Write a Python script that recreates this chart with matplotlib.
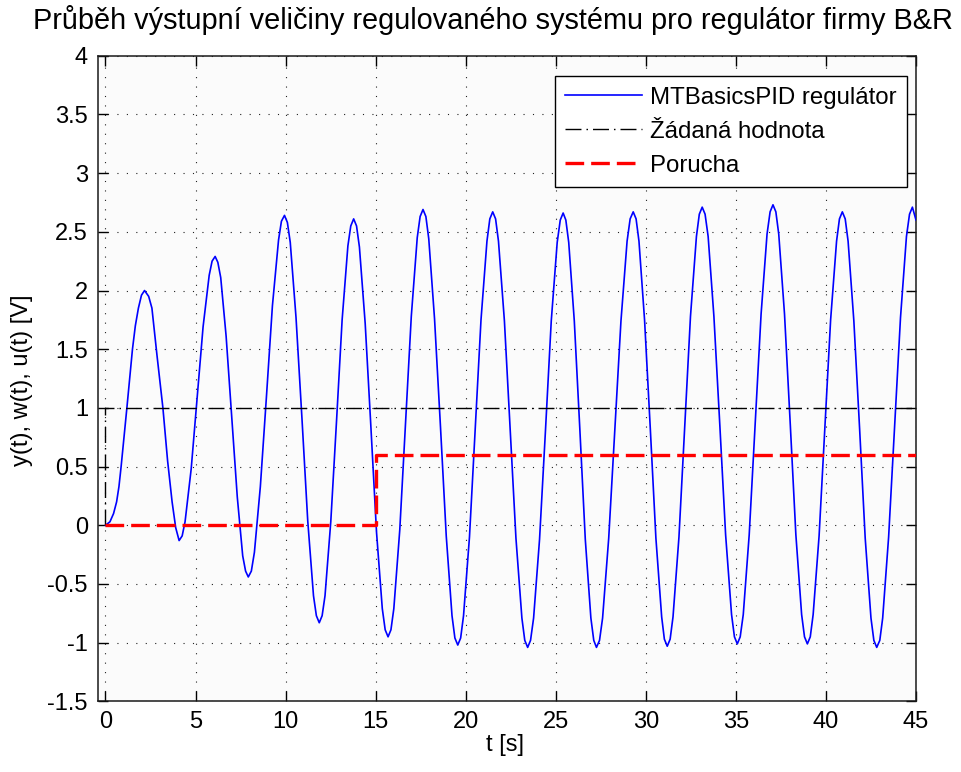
import matplotlib
matplotlib.use("Agg")
import matplotlib.pyplot as plt
from matplotlib.ticker import FixedLocator, FixedFormatter

plt.rcParams['font.family'] = ['Liberation Sans', 'DejaVu Sans']
plt.rcParams['axes.unicode_minus'] = False

# ---- data ----
t_out = [0.0, 0.25, 0.45, 0.62, 0.75, 0.87, 1.03, 1.19, 1.35, 1.5, 1.66, 1.83, 2.0, 2.17,
         2.4, 2.58, 2.86, 3.19, 3.45, 3.7, 3.9, 4.09,
         4.26, 4.42, 4.76, 5.09, 5.42, 5.76, 5.92, 6.09,
         6.24, 6.40, 6.70, 7.01, 7.32, 7.62, 7.78, 7.93,
         8.10, 8.27, 8.60, 8.94, 9.27, 9.61, 9.77, 9.94,
         10.10, 10.26, 10.58, 10.91, 11.23, 11.55, 11.71, 11.87,
         12.03, 12.19, 12.51, 12.83, 13.14, 13.46, 13.62, 13.78,
         13.94, 14.10, 14.42, 14.74, 15.05, 15.37, 15.53, 15.69,
         15.85, 16.01, 16.34, 16.66, 16.98, 17.31, 17.47, 17.63,
         17.79, 17.95, 18.27, 18.60, 18.92, 19.24, 19.40, 19.56,
         19.72, 19.88, 20.21, 20.53, 20.85, 21.18, 21.34, 21.50,
         21.66, 21.82, 22.15, 22.47, 22.79, 23.12, 23.28, 23.44,
         23.60, 23.77, 24.10, 24.43, 24.75, 25.08, 25.25, 25.41,
         25.56, 25.72, 26.03, 26.34, 26.64, 26.95, 27.11, 27.26,
         27.43, 27.60, 27.94, 28.28, 28.62, 28.96, 29.13, 29.30,
         29.46, 29.62, 29.93, 30.25, 30.56, 30.88, 31.03, 31.19,
         31.35, 31.51, 31.84, 32.16, 32.48, 32.81, 32.97, 33.13,
         33.29, 33.46, 33.78, 34.11, 34.43, 34.76, 34.92, 35.08,
         35.24, 35.41, 35.74, 36.07, 36.40, 36.73, 36.90, 37.06,
         37.22, 37.38, 37.70, 38.02, 38.33, 38.65, 38.81, 38.97,
         39.13, 39.29, 39.62, 39.94, 40.26, 40.59, 40.75, 40.91,
         41.07, 41.23, 41.55, 41.87, 42.18, 42.50, 42.66, 42.82,
         42.99, 43.15, 43.48, 43.81, 44.14, 44.47, 44.64, 44.80,
         45.0]
y_out = [0.0, 0.03, 0.10, 0.20, 0.33, 0.50, 0.75, 1.00, 1.26, 1.50, 1.70, 1.85, 1.96, 2.00,
         1.95, 1.85, 1.45, 1.00, 0.55, 0.20, -0.02, -0.13,
         -0.09, 0.03, 0.48, 1.08, 1.69, 2.13, 2.25, 2.29,
         2.24, 2.11, 1.61, 0.93, 0.24, -0.26, -0.39, -0.44,
         -0.39, -0.23, 0.33, 1.10, 1.87, 2.43, 2.59, 2.64,
         2.58, 2.41, 1.77, 0.91, 0.04, -0.60, -0.77, -0.83,
         -0.77, -0.60, 0.03, 0.89, 1.75, 2.38, 2.55, 2.61,
         2.55, 2.37, 1.72, 0.83, -0.06, -0.71, -0.89, -0.95,
         -0.89, -0.71, -0.04, 0.87, 1.78, 2.45, 2.63, 2.69,
         2.63, 2.44, 1.76, 0.84, -0.09, -0.77, -0.96, -1.02,
         -0.96, -0.77, -0.10, 0.83, 1.75, 2.42, 2.61, 2.67,
         2.61, 2.42, 1.74, 0.82, -0.11, -0.79, -0.98, -1.04,
         -0.98, -0.79, -0.12, 0.81, 1.74, 2.41, 2.60, 2.66,
         2.60, 2.41, 1.74, 0.81, -0.12, -0.79, -0.98, -1.04,
         -0.98, -0.79, -0.11, 0.82, 1.74, 2.42, 2.61, 2.67,
         2.61, 2.42, 1.75, 0.82, -0.11, -0.78, -0.97, -1.03,
         -0.97, -0.78, -0.10, 0.84, 1.78, 2.46, 2.65, 2.71,
         2.65, 2.46, 1.78, 0.85, -0.08, -0.76, -0.95, -1.01,
         -0.95, -0.76, -0.08, 0.86, 1.80, 2.48, 2.67, 2.73,
         2.67, 2.48, 1.80, 0.86, -0.08, -0.76, -0.95, -1.01,
         -0.95, -0.76, -0.09, 0.83, 1.75, 2.42, 2.61, 2.67,
         2.61, 2.42, 1.74, 0.82, -0.11, -0.79, -0.98, -1.04,
         -0.98, -0.79, -0.10, 0.84, 1.77, 2.46, 2.65, 2.71,
         2.60]

t_w = [0.0, 0.0, 45.0]
w_val = [0.0, 1.0, 1.0]

t_u = [0.0, 15.0, 15.0, 45.0]
u_val = [0.0, 0.0, 0.6, 0.6]

x_ticks = [0, 5, 10, 15, 20, 25, 30, 35, 40, 45]
x_ticklabels = ['0', '5', '10', '15', '20', '25', '30', '35', '40', '45']
y_ticks = [-1.5, -1, -0.5, 0, 0.5, 1, 1.5, 2, 2.5, 3, 3.5, 4]
y_ticklabels = ['-1.5', '-1', '-0.5', '0', '0.5', '1', '1.5', '2', '2.5', '3', '3.5', '4']

series_labels = ['MTBasicsPID regulátor', 'Žádaná hodnota', 'Porucha']
title_text = 'Průběh výstupní veličiny regulovaného systému pro regulátor firmy B&R'
xlabel_text = 't [s]'
ylabel_text = 'y(t), w(t), u(t) [V]'

# ---- figure ----
W, H = 961, 772
fig = plt.figure(figsize=(W / 100, H / 100), dpi=100, facecolor='white')
left, right, top, bottom = 97.7, 916.0, 55.7, 701.4
ax = fig.add_axes([left / W, 1 - bottom / H, (right - left) / W, (bottom - top) / H])
ax.set_facecolor('#fbfbfb')

ax.plot(t_out, y_out, color='#0000ff', lw=1.2, label=series_labels[0], zorder=3)
ax.plot(t_w, w_val, color='black', lw=1.0, linestyle=(0, (11.5, 3.6, 1.1, 3.6)),
        label=series_labels[1], zorder=4)
ax.plot(t_u, u_val, color='#ff0000', lw=2.4, linestyle=(0, (5.6, 2.1)),
        label=series_labels[2], zorder=5)

ax.set_xlim(-0.43, 45)
ax.set_ylim(-1.5, 4)
ax.xaxis.set_major_locator(FixedLocator(x_ticks))
ax.xaxis.set_major_formatter(FixedFormatter(x_ticklabels))
ax.yaxis.set_major_locator(FixedLocator(y_ticks))
ax.yaxis.set_major_formatter(FixedFormatter(y_ticklabels))

ax.grid(True, color='#222222', linestyle=(0, (1, 7.5)), linewidth=0.8)
ax.set_axisbelow(True)
ax.tick_params(direction='in', length=7, width=1.0, top=True, right=True,
               labelsize=17, colors='black', pad=7)
for sp in ax.spines.values():
    sp.set_linewidth(1.1)
    sp.set_color('#1a1a1a')

leg = ax.legend(loc='upper right', bbox_to_anchor=(0.989, 0.969), borderaxespad=0,
                fontsize=17.3, frameon=True, fancybox=False, framealpha=1,
                edgecolor='black', handlelength=3.2, handletextpad=0.3,
                labelspacing=0.5, borderpad=0.45)
leg.get_frame().set_linewidth(1.0)

fig.text(493 / W, 1 - 20 / H, title_text, ha='center', va='center', fontsize=20.8)
fig.text(505 / W, 1 - 745 / H, xlabel_text, ha='center', va='center', fontsize=17)
fig.text(22 / W, 1 - 380 / H, ylabel_text, ha='center', va='center', rotation=90, fontsize=17)

fig.savefig('out.png', dpi=100)
